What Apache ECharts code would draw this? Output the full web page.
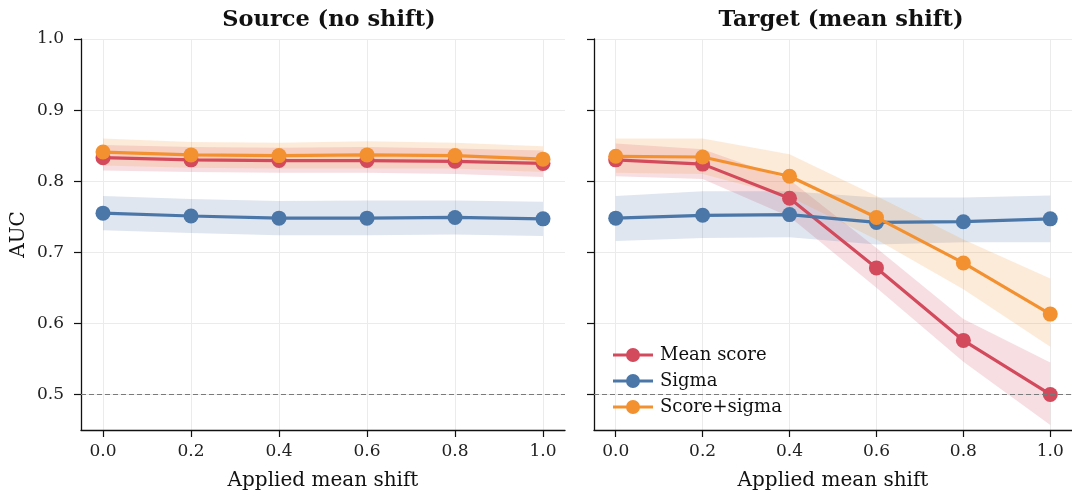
<!DOCTYPE html>
<html><head><meta charset="utf-8">
<script src="https://cdn.jsdelivr.net/npm/echarts@6/dist/echarts.min.js"></script>
<style>html,body{margin:0;padding:0;background:#fff}#c{width:1072px;height:496px}</style>
</head><body><div id="c"></div>
<script>
const shifts = [0.0, 0.2, 0.4, 0.6, 0.8, 1.0];
const xTicks = [0.0, 0.2, 0.4, 0.6, 0.8, 1.0];
const yTicks = [0.5, 0.6, 0.7, 0.8, 0.9, 1.0];
const panelTitles = ['Source (no shift)', 'Target (mean shift)'];
const seriesNames = ['Mean score', 'Sigma', 'Score+sigma'];

// Source panel
const srcMean   = [0.833, 0.830, 0.829, 0.829, 0.828, 0.825];
const srcMeanLo = [0.815, 0.813, 0.812, 0.812, 0.810, 0.806];
const srcMeanHi = [0.851, 0.848, 0.847, 0.848, 0.846, 0.843];
const srcSigma   = [0.755, 0.751, 0.748, 0.748, 0.749, 0.747];
const srcSigmaLo = [0.731, 0.727, 0.724, 0.724, 0.725, 0.723];
const srcSigmaHi = [0.779, 0.775, 0.772, 0.773, 0.773, 0.771];
const srcBoth   = [0.841, 0.837, 0.836, 0.837, 0.836, 0.831];
const srcBothLo = [0.822, 0.819, 0.818, 0.818, 0.818, 0.813];
const srcBothHi = [0.860, 0.855, 0.854, 0.856, 0.854, 0.849];

// Target panel
const tgtMean   = [0.830, 0.824, 0.776, 0.678, 0.576, 0.500];
const tgtMeanLo = [0.807, 0.803, 0.750, 0.650, 0.546, 0.457];
const tgtMeanHi = [0.853, 0.845, 0.802, 0.706, 0.606, 0.545];
const tgtSigma   = [0.748, 0.752, 0.753, 0.742, 0.743, 0.747];
const tgtSigmaLo = [0.716, 0.720, 0.721, 0.711, 0.714, 0.714];
const tgtSigmaHi = [0.779, 0.786, 0.786, 0.777, 0.777, 0.780];
const tgtBoth   = [0.835, 0.834, 0.807, 0.749, 0.685, 0.613];
const tgtBothLo = [0.812, 0.810, 0.778, 0.718, 0.648, 0.567];
const tgtBothHi = [0.860, 0.860, 0.838, 0.779, 0.718, 0.663];

const colors = ['#d34a5c', '#4b77a8', '#f39130'];
const FONT = '"DejaVu Serif", serif';

function bandRender(lo, hi, color) {
  return function (params, api) {
    if (params.dataIndex !== 0) return { type: 'group', children: [] };
    const pts = [];
    for (let i = 0; i < shifts.length; i++) pts.push(api.coord([shifts[i], hi[i]]));
    for (let i = shifts.length - 1; i >= 0; i--) pts.push(api.coord([shifts[i], lo[i]]));
    return { type: 'polygon', shape: { points: pts }, style: { fill: color, opacity: 0.18 } };
  };
}

const panels = [
  { lines: [srcMean, srcSigma, srcBoth], lo: [srcMeanLo, srcSigmaLo, srcBothLo], hi: [srcMeanHi, srcSigmaHi, srcBothHi] },
  { lines: [tgtMean, tgtSigma, tgtBoth], lo: [tgtMeanLo, tgtSigmaLo, tgtBothLo], hi: [tgtMeanHi, tgtSigmaHi, tgtBothHi] }
];

const series = [];
panels.forEach((p, pi) => {
  for (let k = 0; k < 3; k++) {
    series.push({
      type: 'custom', name: 'band' + pi + k, xAxisIndex: pi, yAxisIndex: pi, z: 1, silent: true,
      renderItem: bandRender(p.lo[k], p.hi[k], colors[k]),
      data: shifts.map((x, i) => [x, p.lo[k][i], p.hi[k][i]]),
      encode: { x: 0, y: [1, 2] }
    });
  }
  series.push({
    type: 'line', name: 'ref' + pi, xAxisIndex: pi, yAxisIndex: pi, data: [], z: 2, silent: true,
    markLine: { silent: true, symbol: 'none', label: { show: false },
      lineStyle: { color: '#7a7a7a', type: [5, 3], width: 1.2 }, data: [{ yAxis: 0.5 }] }
  });
  for (let k = 0; k < 3; k++) {
    series.push({
      type: 'line', name: seriesNames[k], xAxisIndex: pi, yAxisIndex: pi, z: 3 + k,
      data: shifts.map((x, i) => [x, p.lines[k][i]]),
      symbol: 'circle', symbolSize: 15,
      lineStyle: { color: colors[k], width: 3.2 },
      itemStyle: { color: colors[k] },
      animation: false
    });
  }
});

const fmt = v => (Math.round(v * 10) / 10).toFixed(1);

function xAxis(gi) {
  return {
    type: 'value', gridIndex: gi, min: -0.05, max: 1.05,
    name: 'Applied mean shift', nameLocation: 'middle', nameGap: 41,
    nameTextStyle: { fontFamily: FONT, fontSize: 20, color: '#111' },
    axisLine: { show: true, onZero: false, lineStyle: { color: '#111', width: 1.3 } },
    axisTick: { show: true, customValues: xTicks, length: 7, lineStyle: { color: '#111', width: 1.2 } },
    axisLabel: { customValues: xTicks, formatter: fmt, fontFamily: FONT, fontSize: 17, color: '#222', margin: 13 },
    splitLine: { show: true, customValues: xTicks, lineStyle: { color: '#ebebeb', width: 1 } }
  };
}
function yAxis(gi) {
  return {
    type: 'value', gridIndex: gi, min: 0.45, max: 1.0,
    name: gi === 0 ? 'AUC' : '', nameLocation: 'middle', nameGap: 52,
    nameTextStyle: { fontFamily: FONT, fontSize: 20, color: '#111' },
    axisLine: { show: true, onZero: false, lineStyle: { color: '#111', width: 1.3 } },
    axisTick: { show: true, customValues: yTicks, length: 7, lineStyle: { color: '#111', width: 1.2 } },
    axisLabel: { show: gi === 0, customValues: yTicks, formatter: fmt, fontFamily: FONT, fontSize: 17, color: '#222', margin: 17 },
    splitLine: { show: true, customValues: yTicks, lineStyle: { color: '#ebebeb', width: 1 } }
  };
}

const legendIcon = 'path://M0,5.5 L40,5.5 L40,8.5 L0,8.5 Z M13,7 A7,7 0 1,1 27,7 A7,7 0 1,1 13,7 Z';

const chart = echarts.init(document.getElementById('c'), null, { renderer: 'canvas' });
chart.setOption({
  animation: false,
  backgroundColor: '#ffffff',
  title: [
    { text: panelTitles[0], left: 324, top: 4, textAlign: 'center',
      textStyle: { fontFamily: FONT, fontSize: 22.5, fontWeight: 'bold', color: '#111' } },
    { text: panelTitles[1], left: 836, top: 4, textAlign: 'center',
      textStyle: { fontFamily: FONT, fontSize: 22.5, fontWeight: 'bold', color: '#111' } }
  ],
  grid: [
    { left: 81, top: 39, width: 484, height: 392 },
    { left: 594, top: 39, width: 485, height: 392 }
  ],
  xAxis: [xAxis(0), xAxis(1)],
  yAxis: [yAxis(0), yAxis(1)],
  legend: {
    data: seriesNames, orient: 'vertical', left: 608, top: 341,
    icon: legendIcon, itemWidth: 40, itemHeight: 14, itemGap: 8,
    textStyle: { fontFamily: FONT, fontSize: 18, lineHeight: 18, color: '#111', padding: [0, 0, 0, 2] }
  },
  series: series
});
</script></body></html>
